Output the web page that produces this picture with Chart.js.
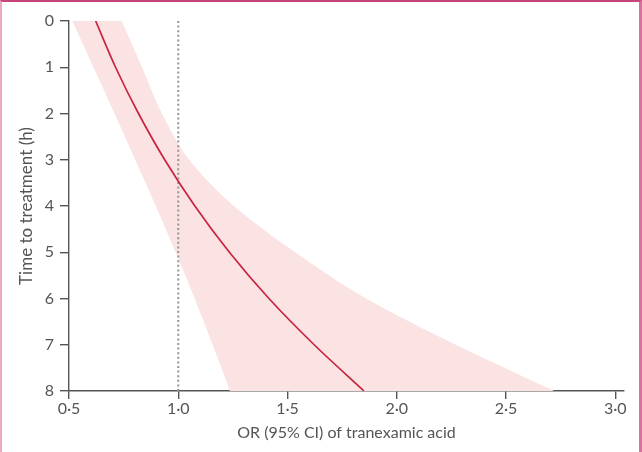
<!DOCTYPE html>
<html>
<head>
<meta charset="utf-8">
<script src="https://cdn.jsdelivr.net/npm/chart.js@4"></script>
<style>
  html, body { margin: 0; padding: 0; background: #fff; }
  #wrap { position: relative; width: 642px; height: 452px; }
  #frame {
    position: absolute; left: 0; top: 0; right: 0; bottom: 0;
    box-sizing: border-box; pointer-events: none;
    border-top: 2px solid #c8447a;
    border-left: 2px solid #eaa9c4;
    border-right: 3px solid #d9709d;
  }
</style>
</head>
<body>
<div id="wrap">
  <canvas id="orChart" width="642" height="452"></canvas>
  <div id="frame"></div>
</div>
<script>
// Time to treatment (h) and the OR read at each hour
const hours = [0, 1, 2, 3, 4, 5, 6, 7, 8];
const orCentre = [0.622, 0.713, 0.818, 0.938, 1.076, 1.234, 1.415, 1.622, 1.85];
const orLower = [0.515, 0.612, 0.708, 0.803, 0.897, 0.988, 1.075, 1.157, 1.237];
const orUpper = [0.741, 0.834, 0.925, 1.05, 1.255, 1.535, 1.86, 2.27, 2.72];
const refOR = 1.0;

// tick labels
const xTicks = [0.5, 1.0, 1.5, 2.0, 2.5, 3.0];
const yTicks = [0, 1, 2, 3, 4, 5, 6, 7, 8];

const tickFont = { family: "Lato", size: 16 };
const axisColor = "#555";
const textColor = "#555";

// punten maken {x: OR, y: uur}
function punten(values) {
  return hours.map((h, i) => ({ x: values[i], y: h }));
}

const ctx = document.getElementById("orChart").getContext("2d");

new Chart(ctx, {
  type: "line",
  data: {
    datasets: [
      {
        label: "OR",
        data: punten(orCentre),
        borderColor: "#c8243f",
        borderWidth: 1.7,
        pointRadius: 0,
        fill: false,
        cubicInterpolationMode: "monotone",
      },
      {
        label: "OR = 1",
        data: [{ x: refOR, y: hours[0] }, { x: refOR, y: hours[hours.length - 1] }],
        borderColor: "#959595",
        borderWidth: 2,
        borderDash: [2, 2.6],
        pointRadius: 0,
        fill: false,
      },
      {
        label: "95% CI lower",
        data: punten(orLower),
        borderWidth: 0,
        borderColor: "rgba(0,0,0,0)",
        backgroundColor: "#fae3e2",
        pointRadius: 0,
        fill: "+1",
        cubicInterpolationMode: "monotone",
      },
      {
        label: "95% CI upper",
        data: punten(orUpper),
        borderWidth: 0,
        borderColor: "rgba(0,0,0,0)",
        pointRadius: 0,
        fill: false,
        cubicInterpolationMode: "monotone",
      },
    ],
  },
  options: {
    indexAxis: "y",
    responsive: false,
    animation: false,
    layout: { padding: { top: 21, right: 18, left: 0, bottom: 0 } },
    plugins: {
      legend: { display: false },
      tooltip: { enabled: false },
    },
    scales: {
      x: {
        type: "linear",
        position: "bottom",
        min: 0.5,
        max: 3.04,
        afterBuildTicks: (s) => { s.ticks = xTicks.map((v) => ({ value: v })); },
        afterFit: (s) => { s.height = 61; },
        border: { display: true, color: axisColor, width: 1.4 },
        grid: { drawOnChartArea: false, drawTicks: true, tickLength: 8, color: axisColor, lineWidth: 1.4 },
        ticks: {
          color: textColor,
          font: tickFont,
          padding: 0,
          maxRotation: 0,
          callback: (v) => Number(v).toFixed(1).replace(".", "·"),
        },
        title: {
          display: true,
          text: "OR (95% CI) of tranexamic acid",
          color: textColor,
          font: { family: "Lato", size: 16 },
          padding: { top: 0, bottom: 10 },
        },
      },
      y: {
        type: "linear",
        reverse: true,
        min: 0,
        max: 8,
        afterBuildTicks: (s) => { s.ticks = yTicks.map((v) => ({ value: v })); },
        afterFit: (s) => { s.width = 69; },
        border: { display: true, color: axisColor, width: 1.4 },
        grid: { drawOnChartArea: false, drawTicks: true, tickLength: 9, color: axisColor, lineWidth: 1.4 },
        ticks: {
          color: textColor,
          font: tickFont,
          padding: 6,
          callback: (v) => String(v),
        },
        title: {
          display: true,
          text: "Time to treatment (h)",
          color: textColor,
          font: { family: "Lato", size: 17 },
          padding: { top: 16, bottom: 0 },
        },
      },
    },
  },
});
</script>
</body>
</html>
